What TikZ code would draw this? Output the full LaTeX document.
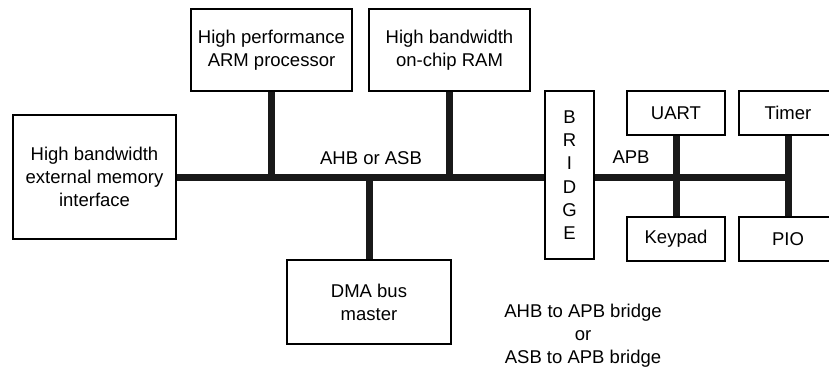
\documentclass[tikz,border=0pt]{standalone}
\usepackage{fontspec}
\setmainfont{Liberation Sans}
\begin{document}
\begin{tikzpicture}[x=1pt, y=-1pt,
    box/.style={draw, line width=1.2pt, inner sep=0pt, align=center,
                font=\fontsize{18.5}{23}\selectfont},
    bus/.style={line width=7pt, black!90},
    lbl/.style={font=\fontsize{18.5}{23}\selectfont, align=center}]
  \useasboundingbox (0,0) rectangle (829,370);
  \clip (0,0) rectangle (829,370);
  % AHB / ASB side
  \node [box, minimum width=163pt, minimum height=124pt] (ext) at (94.5,177)
        {High bandwidth\\external memory\\interface};
  \node [box, minimum width=161pt, minimum height=82pt] (arm) at (271.5,50)
        {High performance\\ARM processor};
  \node [box, minimum width=161pt, minimum height=82pt] (ram) at (449.5,50)
        {High bandwidth\\on-chip RAM};
  \node [box, minimum width=164pt, minimum height=84pt] (dma) at (369,302)
        {DMA bus\\master};
  \node [box, minimum width=49pt, minimum height=168pt,
         font=\fontsize{18.5}{23.3}\selectfont] (bridge) at (569.5,175)
        {B\\R\\I\\D\\G\\E};
  % APB side
  \node [box, minimum width=98pt, minimum height=44pt] (uart) at (676,113) {UART};
  \node [box, minimum width=98pt, minimum height=44pt] (timer) at (788,113) {Timer};
  \node [box, minimum width=98pt, minimum height=44pt] (keypad) at (676,239) {Keypad};
  \node [box, minimum width=98pt, minimum height=44pt] (pio) at (788,239) {PIO};
  % buses
  \coordinate (ahb) at (ext.east);
  \draw [bus] (ahb) -- (ahb -| bridge.west);
  \draw [bus] (arm.south) -- (arm.south |- ahb);
  \draw [bus] (ram.south) -- (ram.south |- ahb);
  \draw [bus] (dma.north) -- (dma.north |- ahb);
  \draw [bus] (bridge.east |- ahb) -- (ahb -| timer.south);
  \draw [bus] (uart.south) -- (keypad.north);
  \draw [bus] (timer.south) -- (pio.north);
  % labels
  \node [lbl] (ahblbl) at (371,158) {AHB or ASB};
  \node [lbl] (apblbl) at (631,157) {APB};
  \node [lbl] (note) at (583,336) {AHB to APB bridge\\or\\ASB to APB bridge};
\end{tikzpicture}
\end{document}
